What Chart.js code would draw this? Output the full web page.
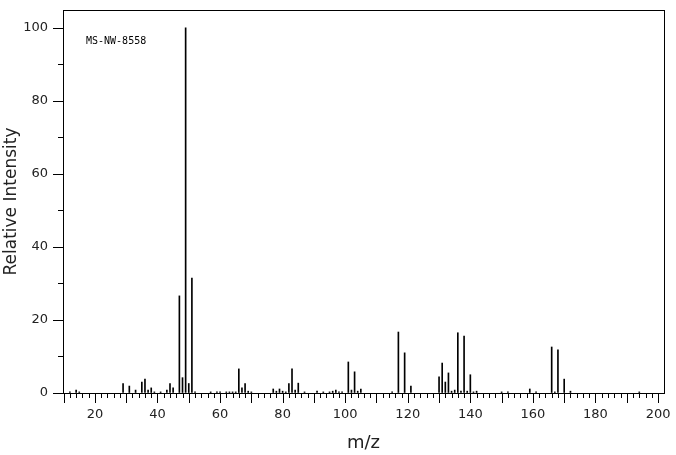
<!DOCTYPE html>
<html>
<head>
<meta charset="utf-8">
<script src="https://cdn.jsdelivr.net/npm/chart.js@4"></script>
<style>
  html, body { margin: 0; padding: 0; background: #fff; }
  #wrap { width: 676px; height: 455px; }
</style>
</head>
<body>
<div id="wrap"><canvas id="msChart"></canvas></div>
<script>
// peaks
const mzValues = [12, 14, 15, 29, 31, 33, 35, 36, 37, 38, 39, 41, 43, 44, 45, 47, 48, 49, 50, 51, 52,
  57, 59, 60, 62, 63, 64, 65, 66, 67, 68, 69, 70, 77, 78, 79, 80, 81, 82, 83, 84, 85, 87,
  91, 93, 95, 96, 97, 98, 99, 101, 102, 103, 104, 105, 115, 117, 119, 121,
  130, 131, 132, 133, 134, 135, 136, 137, 138, 139, 140, 141, 142, 150, 152, 159, 161,
  166, 167, 168, 170, 172, 194];
const intensities = [0.3, 0.8, 0.3, 2.6, 1.9, 0.8, 3.0, 3.8, 0.8, 1.4, 0.3, 0.3, 0.8, 2.6, 1.4, 26.6, 4.2, 100, 2.6, 31.5, 0.3,
  0.3, 0.3, 0.3, 0.3, 0.3, 0.3, 0.3, 6.6, 1.4, 2.6, 0.5, 0.3, 1.1, 0.5, 1.1, 0.5, 0.3, 2.6, 6.6, 0.8, 2.7, 0.3,
  0.5, 0.3, 0.3, 0.5, 0.8, 0.3, 0.3, 8.5, 0.8, 5.8, 0.5, 1.1, 0.3, 16.7, 11.0, 1.9,
  4.4, 8.2, 3.0, 5.5, 0.5, 0.8, 16.5, 0.5, 15.6, 0.5, 5.0, 0.3, 0.5, 0.3, 0.3, 1.1, 0.3,
  12.6, 0.3, 11.8, 3.8, 0.5, 0.3];
const xTickValues = [];
for (let v = 10; v <= 200; v += 2) xTickValues.push(v);
const yTickValues = [0, 10, 20, 30, 40, 50, 60, 70, 80, 90, 100];
const sampleId = 'MS-NW-8558';

const points = mzValues.map((m, i) => ({ x: m, y: intensities[i] }));

// draws frame, tick marks of two lengths and the sample id
const frameTicks = {
  id: 'frameTicks',
  afterDraw(chart) {
    const { ctx, chartArea: a, scales } = chart;
    ctx.save();
    ctx.strokeStyle = '#000';
    ctx.lineWidth = 1;
    ctx.strokeRect(Math.round(a.left) + 0.5, Math.round(a.top) + 0.5,
      Math.round(a.right - a.left), Math.round(a.bottom - a.top));
    ctx.beginPath();
    xTickValues.forEach(v => {
      const px = Math.round(scales.x.getPixelForValue(v)) + 0.5;
      const len = v % 10 === 0 ? 10 : 5;
      ctx.moveTo(px, a.bottom);
      ctx.lineTo(px, a.bottom + len);
    });
    yTickValues.forEach(v => {
      const py = Math.round(scales.y.getPixelForValue(v)) + 0.5;
      const len = v % 20 === 0 ? 10 : 5;
      ctx.moveTo(a.left, py);
      ctx.lineTo(a.left - len, py);
    });
    ctx.stroke();
    ctx.fillStyle = '#000';
    ctx.font = '10px "DejaVu Sans Mono"';
    ctx.textBaseline = 'middle';
    ctx.fillText(sampleId, a.left + 23, a.top + 31);
    ctx.restore();
  }
};

const config = {
  type: 'bar',
  data: {
    datasets: [{
      data: points,
      backgroundColor: '#000',
      borderWidth: 0,
      barThickness: 1
    }]
  },
  options: {
    responsive: false,
    animation: false,
    layout: { padding: { top: 10, right: 12, left: 0, bottom: 0 } },
    plugins: { legend: { display: false }, tooltip: { enabled: false } },
    scales: {
      x: {
        type: 'linear',
        offset: false,
        min: 9.8,
        max: 201.9,
        afterFit(scale) { scale.height = 62; scale.paddingLeft = 0; scale.paddingRight = 0; },
        afterBuildTicks(scale) { scale.ticks = xTickValues.map(v => ({ value: v })); },
        grid: { offset: false, drawOnChartArea: false, drawTicks: true, tickLength: 10, color: 'transparent' },
        border: { display: false },
        ticks: {
          autoSkip: false,
          maxRotation: 0,
          padding: 4,
          color: '#222',
          font: { family: 'DejaVu Sans', size: 13 },
          callback: v => (v % 20 === 0 ? String(v) : '')
        },
        title: {
          display: true,
          text: 'm/z',
          color: '#222',
          font: { family: 'DejaVu Sans', size: 18 },
          padding: { top: 0, bottom: 1 }
        }
      },
      y: {
        min: 0,
        max: 104.9,
        afterFit(scale) { scale.width = 63; scale.paddingTop = 0; scale.paddingBottom = 0; },
        afterBuildTicks(scale) { scale.ticks = yTickValues.map(v => ({ value: v })); },
        grid: { drawOnChartArea: false, drawTicks: true, tickLength: 10, color: 'transparent' },
        border: { display: false },
        ticks: {
          autoSkip: false,
          padding: 5,
          color: '#222',
          font: { family: 'DejaVu Sans', size: 13 },
          callback: v => (v % 20 === 0 ? String(v) : '')
        },
        title: {
          display: true,
          text: 'Relative Intensity',
          color: '#222',
          font: { family: 'DejaVu Sans', size: 17 },
          padding: { top: 1, bottom: 0 }
        }
      }
    }
  },
  plugins: [frameTicks]
};

const canvas = document.getElementById('msChart');
canvas.width = 676;
canvas.height = 455;
new Chart(canvas.getContext('2d'), config);
</script>
</body>
</html>
